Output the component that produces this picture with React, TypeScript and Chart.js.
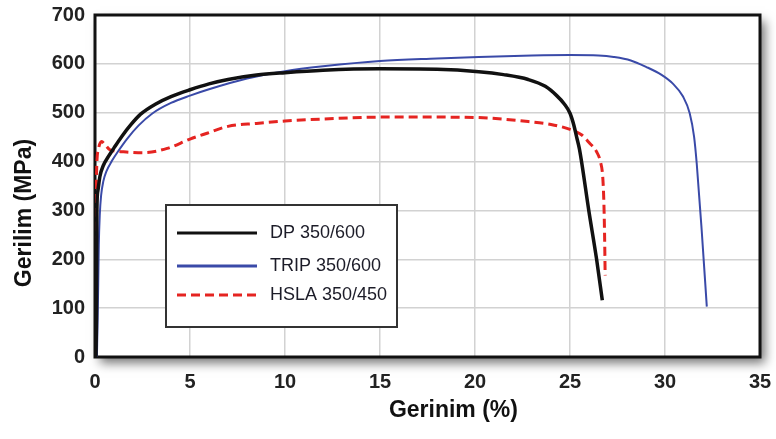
import { useEffect, useRef } from 'react';
import { Chart, registerables } from 'chart.js';

Chart.register(...registerables);

// ---- data ----
const SERIES_LABELS = ['DP 350/600', 'TRIP 350/600', 'HSLA 350/450'];

const DP_X = [0.05, 0.08, 0.1, 0.15, 0.26, 0.45, 0.7, 1.0, 1.4, 1.9, 2.4, 3.2, 4.0, 5.0, 6.0, 7.0, 8.5, 10, 12, 15, 18, 20.2, 21.5, 22.8, 23.7, 24.3, 24.7, 25.0, 25.2, 25.35, 25.5, 26.0, 26.4, 26.7];
const DP_Y = [0, 100, 300, 340, 370, 393, 410, 428, 451, 476, 497, 518, 533, 547, 559, 568, 577, 582, 587, 590, 589, 584, 578, 568, 554, 535, 518, 499, 475, 450, 425, 297, 200, 116];

const TRIP_X = [0.1, 0.14, 0.17, 0.2, 0.25, 0.32, 0.44, 0.6, 0.9, 1.2, 1.7, 2.3, 3.0, 4.0, 5.0, 6.0, 8.0, 10, 12, 15, 18, 20.2, 23, 25, 26.5, 27.3, 28.2, 29.0, 29.8, 30.4, 30.95, 31.3, 31.53, 31.67, 31.93, 32.2];
const TRIP_Y = [0, 80, 150, 230, 290, 330, 360, 380, 402, 420, 447, 474, 498, 520, 535, 548, 570, 585, 595, 606, 611, 614, 617, 618, 617, 614, 607, 594, 578, 560, 533, 499, 451, 396, 260, 103];

const HSLA_X = [0.0, 0.02, 0.05, 0.09, 0.18, 0.35, 0.5, 0.79, 1.5, 2.5, 3.8, 5.0, 5.9, 7.0, 8.5, 10, 12, 15, 18, 20.2, 22.8, 24, 25, 25.6, 26.0, 26.4, 26.6, 26.72, 26.78, 26.82, 26.85];
const HSLA_Y = [0, 150, 300, 389, 425, 441, 436, 424, 420, 418, 427, 446, 458, 472, 478, 483, 487, 491, 491, 490, 482, 476, 466, 455, 439, 420, 400, 370, 320, 250, 167];

const X_TICKS = [0, 5, 10, 15, 20, 25, 30, 35];
const Y_TICKS = [0, 100, 200, 300, 400, 500, 600, 700];

const X_TITLE = 'Gerinim (%)';
const Y_TITLE = 'Gerilim (MPa)';

const toPoints = (xs: number[], ys: number[]) => xs.map((x, i) => ({ x, y: ys[i] }));

const FONT = '"Liberation Sans", Arial, sans-serif';

const framePlugin = {
  id: 'framePlugin',
  beforeDraw(chart: any) {
    const { ctx, chartArea: a, width, height } = chart;
    ctx.save();
    ctx.fillStyle = '#ffffff';
    ctx.fillRect(0, 0, width, height);
    ctx.shadowColor = 'rgba(0,0,0,0.55)';
    ctx.shadowBlur = 10;
    ctx.shadowOffsetX = 5;
    ctx.shadowOffsetY = 6;
    ctx.fillStyle = '#ffffff';
    ctx.fillRect(a.left, a.top, a.right - a.left, a.bottom - a.top);
    ctx.restore();
  },
  beforeDatasetsDraw(chart: any) {
    const { ctx, chartArea: a } = chart;
    ctx.save();
    ctx.strokeStyle = '#111111';
    ctx.lineWidth = 3;
    ctx.strokeRect(a.left, a.top, a.right - a.left, a.bottom - a.top);
    ctx.restore();
  },
  afterDraw(chart: any) {
    const { ctx, chartArea: a } = chart;
    ctx.save();
    // axis titles
    ctx.fillStyle = '#111111';
    ctx.font = `bold 23px ${FONT}`;
    ctx.textAlign = 'center';
    ctx.textBaseline = 'middle';
    ctx.fillText(X_TITLE, a.left + (a.right - a.left) * 0.539, 411);
    ctx.save();
    ctx.translate(25, a.top + (a.bottom - a.top) * 0.579);
    ctx.rotate(-Math.PI / 2);
    ctx.fillText(Y_TITLE, 0, 0);
    ctx.restore();

    // legend box
    const bx = a.left + 71;
    const by = a.top + 190;
    const bw = 231;
    const bh = 122;
    ctx.fillStyle = '#ffffff';
    ctx.fillRect(bx, by, bw, bh);
    ctx.strokeStyle = '#333333';
    ctx.lineWidth = 2;
    ctx.strokeRect(bx, by, bw, bh);
    const rows = [28, 61, 90];
    chart.data.datasets.forEach((ds: any, i: number) => {
      const y = by + rows[i];
      ctx.beginPath();
      ctx.strokeStyle = ds.borderColor;
      ctx.lineWidth = 3;
      ctx.setLineDash(ds.borderDash || []);
      ctx.moveTo(bx + 11, y);
      ctx.lineTo(bx + 91, y);
      ctx.stroke();
      ctx.setLineDash([]);
      ctx.fillStyle = '#1c1c28';
      ctx.font = `18px ${FONT}`;
      ctx.textAlign = 'left';
      ctx.textBaseline = 'middle';
      ctx.fillText(ds.label, bx + 104, y);
    });
    ctx.restore();
  },
};

export default function App() {
  const ref = useRef<HTMLCanvasElement | null>(null);

  useEffect(() => {
    if (!ref.current) return;
    const chart = new Chart(ref.current, {
      type: 'line',
      data: {
        datasets: [
          {
            label: SERIES_LABELS[0],
            data: toPoints(DP_X, DP_Y),
            borderColor: '#111111',
            borderWidth: 3.5,
            cubicInterpolationMode: 'monotone',
            pointRadius: 0,
            fill: false,
          },
          {
            label: SERIES_LABELS[1],
            data: toPoints(TRIP_X, TRIP_Y),
            borderColor: '#3a4aa8',
            borderWidth: 2,
            cubicInterpolationMode: 'monotone',
            pointRadius: 0,
            fill: false,
          },
          {
            label: SERIES_LABELS[2],
            data: toPoints(HSLA_X, HSLA_Y),
            borderColor: '#e52421',
            borderWidth: 3,
            borderDash: [9, 5],
            cubicInterpolationMode: 'monotone',
            pointRadius: 0,
            fill: false,
          },
        ],
      },
      options: {
        responsive: false,
        animation: false,
        events: [],
        layout: { padding: { top: 15, right: 16, bottom: 0, left: 0 } },
        plugins: {
          legend: { display: false },
          tooltip: { enabled: false },
        },
        scales: {
          x: {
            type: 'linear',
            min: 0,
            max: 35,
            afterBuildTicks: (s: any) => {
              s.ticks = X_TICKS.map((v) => ({ value: v }));
            },
            afterFit: (s: any) => {
              s.height = 82;
              s.paddingLeft = 0;
              s.paddingRight = 0;
            },
            grid: { color: '#d2d2d2', lineWidth: 1.5, drawTicks: false },
            border: { display: false },
            ticks: {
              font: { family: FONT, size: 20, weight: 'bold' },
              color: '#222222',
              padding: 13,
              maxRotation: 0,
              autoSkip: false,
            },
          },
          y: {
            type: 'linear',
            min: 0,
            max: 700,
            afterBuildTicks: (s: any) => {
              s.ticks = Y_TICKS.map((v) => ({ value: v }));
            },
            afterFit: (s: any) => {
              s.width = 95;
              s.paddingTop = 0;
              s.paddingBottom = 0;
            },
            grid: { color: '#d2d2d2', lineWidth: 1.5, drawTicks: false },
            border: { display: false },
            ticks: {
              font: { family: FONT, size: 20, weight: 'bold' },
              color: '#222222',
              padding: 10,
              autoSkip: false,
            },
          },
        },
      },
      plugins: [framePlugin],
    });
    return () => chart.destroy();
  }, []);

  return (
    <div style={{ position: 'fixed', left: 0, top: 0, width: 776, height: 439, background: '#fff' }}>
      <canvas ref={ref} width={776} height={439} style={{ display: 'block', width: 776, height: 439 }} />
    </div>
  );
}
